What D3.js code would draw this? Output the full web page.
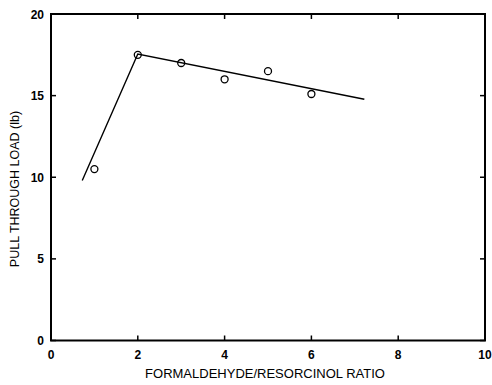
<!DOCTYPE html>
<html lang="en">
<head>
    <meta charset="utf-8">
    <script src="https://d3js.org/d3.v7.min.js"></script>
    <style>
        body { margin: 0; background: #fff; }
        svg { display: block; font-family: "Liberation Sans", Arial, sans-serif; }
    </style>
</head>
<body>
    <div id="chart"></div>
    <script>
        // measured points
        const ratio = [1, 2, 3, 4, 5, 6];
        const load = [10.5, 17.5, 17.0, 16.0, 16.5, 15.1];

        // fitted two-segment line
        const fitX = [0.72, 2, 7.22];
        const fitY = [9.8, 17.55, 14.78];

        const xTicks = [0, 2, 4, 6, 8, 10];
        const yTicks = [0, 5, 10, 15, 20];

        const width = 492, height = 385;
        const plotLeft = 51, plotRight = 485, plotTop = 14, plotBottom = 340.5;

        const svg = d3.select("#chart").append("svg")
            .attr("width", width)
            .attr("height", height);

        const x = d3.scaleLinear().domain([0, 10]).range([plotLeft, plotRight]);
        const y = d3.scaleLinear().domain([0, 20]).range([plotBottom, plotTop]);

        // frame
        svg.append("rect")
            .attr("x", plotLeft).attr("y", plotTop)
            .attr("width", plotRight - plotLeft).attr("height", plotBottom - plotTop)
            .attr("fill", "none").attr("stroke", "#000").attr("stroke-width", 2);

        // inward ticks on all four sides
        const tickLen = 5;
        svg.selectAll(".xtb").data(xTicks).enter().append("line")
            .attr("x1", d => x(d)).attr("x2", d => x(d))
            .attr("y1", plotBottom).attr("y2", plotBottom - tickLen)
            .attr("stroke", "#000").attr("stroke-width", 1.5);
        svg.selectAll(".xtt").data(xTicks).enter().append("line")
            .attr("x1", d => x(d)).attr("x2", d => x(d))
            .attr("y1", plotTop).attr("y2", plotTop + tickLen)
            .attr("stroke", "#000").attr("stroke-width", 1.5);
        svg.selectAll(".ytl").data(yTicks).enter().append("line")
            .attr("x1", plotLeft).attr("x2", plotLeft + tickLen)
            .attr("y1", d => y(d)).attr("y2", d => y(d))
            .attr("stroke", "#000").attr("stroke-width", 1.5);
        svg.selectAll(".ytr").data(yTicks).enter().append("line")
            .attr("x1", plotRight).attr("x2", plotRight - tickLen)
            .attr("y1", d => y(d)).attr("y2", d => y(d))
            .attr("stroke", "#000").attr("stroke-width", 1.5);

        // tick labels
        svg.selectAll(".xl").data(xTicks).enter().append("text")
            .attr("x", d => x(d)).attr("y", plotBottom + 18.5)
            .attr("text-anchor", "middle")
            .style("font-size", "12px").style("font-weight", "bold")
            .text(d => d);
        svg.selectAll(".yl").data(yTicks).enter().append("text")
            .attr("x", plotLeft - 7).attr("y", d => y(d) + 4.5)
            .attr("text-anchor", "end")
            .style("font-size", "12px").style("font-weight", "bold")
            .text(d => d);

        // axis titles
        svg.append("text")
            .attr("x", 265).attr("y", 378)
            .attr("text-anchor", "middle")
            .style("font-size", "13px")
            .text("FORMALDEHYDE/RESORCINOL RATIO");
        svg.append("text")
            .attr("transform", "translate(18.5," + 189 + ") rotate(-90)")
            .attr("text-anchor", "middle")
            .style("font-size", "12.5px")
            .text("PULL THROUGH LOAD (lb)");

        // fit line
        svg.append("path")
            .datum(d3.zip(fitX, fitY))
            .attr("fill", "none")
            .attr("stroke", "#000")
            .attr("stroke-width", 1.4)
            .attr("d", d3.line().x(d => x(d[0])).y(d => y(d[1])));

        // markers
        svg.selectAll(".dot").data(d3.zip(ratio, load)).enter().append("circle")
            .attr("cx", d => x(d[0])).attr("cy", d => y(d[1])).attr("r", 3.5)
            .attr("fill", "none").attr("stroke", "#000").attr("stroke-width", 1.3);
    </script>
</body>
</html>
